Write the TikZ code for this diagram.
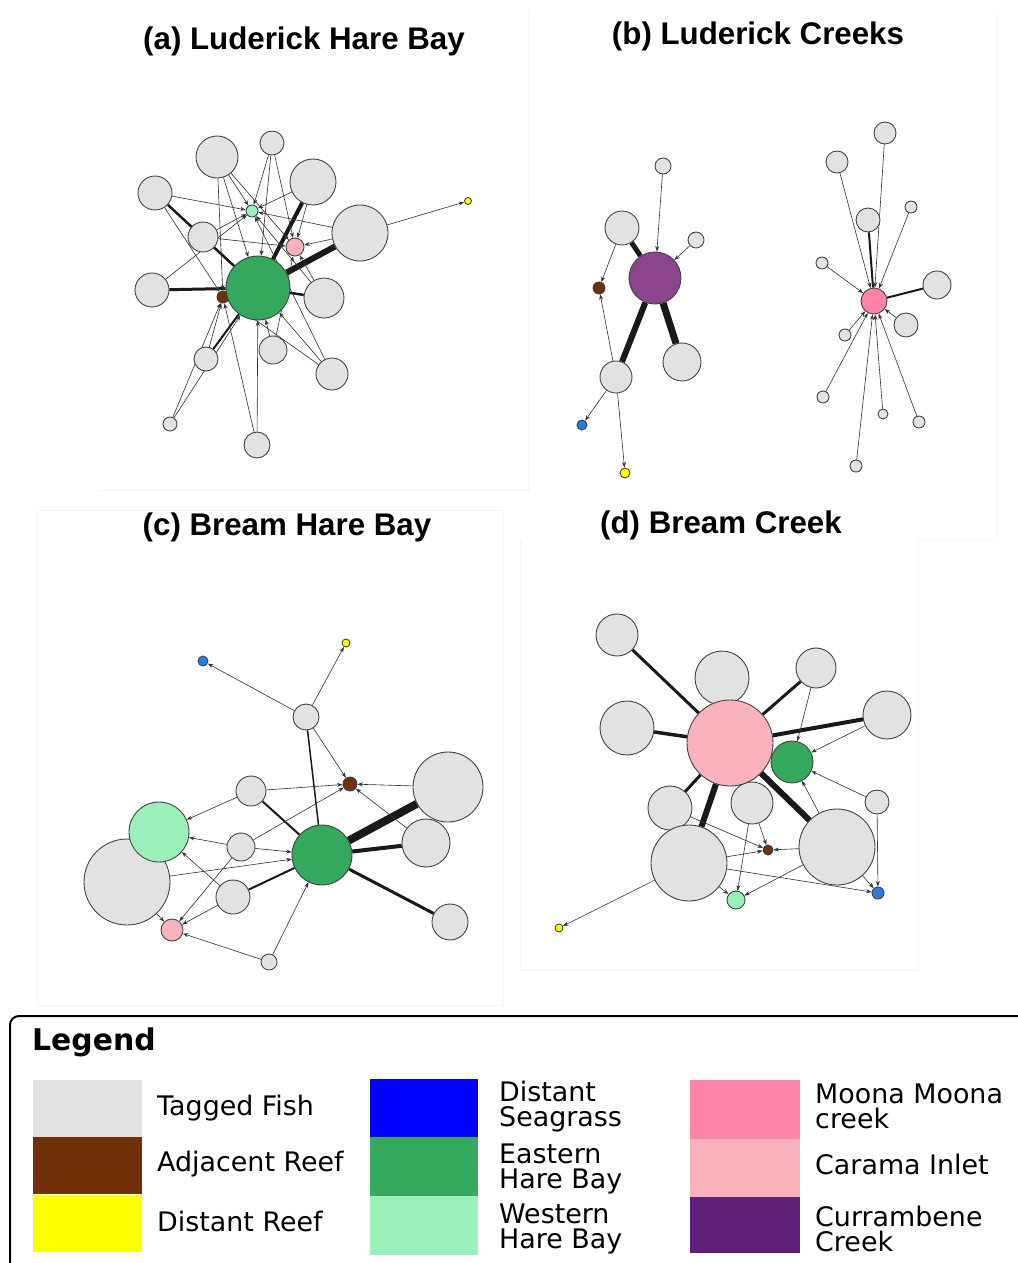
\documentclass[tikz,border=0pt]{standalone}
\usepackage{fontspec}
\setmainfont{Liberation Sans}
\newfontfamily\legfont{DejaVu Sans}
\usetikzlibrary{arrows.meta, backgrounds}
\definecolor{fishgrey}{RGB}{226,226,226}
\definecolor{adjreef}{RGB}{112,48,10}
\definecolor{distreef}{RGB}{255,255,0}
\definecolor{distgrass}{RGB}{0,0,255}
\definecolor{grassnode}{RGB}{40,125,225}
\definecolor{easthare}{RGB}{52,168,92}
\definecolor{westhare}{RGB}{155,240,185}
\definecolor{moona}{RGB}{255,130,168}
\definecolor{carama}{RGB}{250,178,188}
\definecolor{curram}{RGB}{95,30,120}
\definecolor{curramnode}{RGB}{140,68,140}

\begin{document}
\begin{tikzpicture}[x=0.2mm, y=-0.2mm,
  stn/.style={circle, draw=black!75, line width=0.5pt, inner sep=0pt, minimum size=#1*0.4mm},
  fish/.style={stn=#1, fill=fishgrey},
  link/.style={-{Stealth[length=1.1mm, width=0.8mm]}, line width=0.35pt, black!80},
  heavy/.style={line width=#1*0.2mm, black!90},
  title/.style={font=\bfseries\fontsize{17.8}{20}\selectfont, anchor=base},
  legtext/.style={font=\legfont\fontsize{15.3}{14.2}\selectfont, align=left, anchor=west},
  swatch/.style={fill=#1, draw=none}
]
  \useasboundingbox (0,0) rectangle (1017,1263);

  % faint panel frames
  \draw[black!4] (97,490) -- (530,490);
  \draw[black!4] (528,10) -- (528,490) (997,10) -- (997,540) -- (918,540);
  \draw[black!4] (37,510) rectangle (503,1005);
  \draw[black!4] (520,540) -- (520,970) -- (918,970) -- (918,540);

  % titles
  \node[title] (ta) at (304,50) {(a) Luderick Hare Bay};
  \node[title] (tb) at (758,44) {(b) Luderick Creeks};
  \node[title] (tc) at (287,535) {(c) Bream Hare Bay};
  \node[title] (td) at (721,533) {(d) Bream Creek};

  % (a) Luderick Hare Bay
  \node[stn=6, fill=adjreef] (aR) at (223,297) {};
  \node[stn=32, fill=easthare] (aE) at (258,288) {};
  \node[stn=9, fill=carama] (aP) at (295,247) {};
  \node[stn=6, fill=westhare] (aW) at (252,211) {};
  \node[stn=3.5, fill=distreef] (aY) at (468,201) {};
  \foreach \n/\x/\y/\r in {1/217/157/21, 2/272/143/12, 3/313/182/23, 4/155/193/17,
      5/360/233/28, 6/203/237/15, 7/152/290/17, 8/324/298/20, 9/273/350/14,
      10/206/359/12, 11/332/374/16, 12/170/424/7, 13/257/445/13}
    \node[fish=\r] (a\n) at (\x,\y) {};

  \begin{scope}[on background layer]
    \foreach \s/\w in {5/6, 3/4, 7/3, 4/2.5, 8/2.5, 10/2, 6/1.5}
      \draw[heavy=\w] (a\s) -- (aE);
    \foreach \s/\t in {5/Y, 4/W, 4/R, 1/W, 1/R, 1/P, 1/E, 2/W, 2/E, 2/P, 3/W, 3/P,
        5/P, 5/W, 6/W, 6/P, 7/W, 8/P, 8/W, 9/E, 9/P, 10/R, 11/E, 11/R, 11/W,
        12/R, 12/E, 13/E, 13/R}
      \draw[link] (a\s) -- (a\t);
  \end{scope}

  % (b) Luderick Creeks
  \node[stn=26, fill=curramnode] (bC) at (655,278) {};
  \node[stn=6, fill=adjreef] (bR) at (599,288) {};
  \node[stn=5, fill=grassnode] (bS) at (582,425) {};
  \node[stn=5, fill=distreef] (bY) at (625,473) {};
  \foreach \n/\x/\y/\r in {1/663/166/8, 2/622/228/17, 3/696/240/8, 4/616/377/16, 5/682/362/19}
    \node[fish=\r] (b\n) at (\x,\y) {};

  \node[stn=13, fill=moona] (bM) at (874,301) {};
  \foreach \n/\x/\y/\r in {6/885/133/11, 7/837/162/11, 8/868/220/12, 9/911/207/6,
      10/822/263/6, 11/937/285/14, 12/906/325/12, 13/845/335/6, 14/823/397/6,
      15/883/414/5, 16/919/422/6, 17/856/466/6}
    \node[fish=\r] (b\n) at (\x,\y) {};

  \begin{scope}[on background layer]
    \foreach \s/\w in {2/5, 4/6, 5/7}
      \draw[heavy=\w] (b\s) -- (bC);
    \draw[heavy=2] (b8) -- (bM);
    \draw[heavy=2] (b11) -- (bM);
    \foreach \s/\t in {1/C, 3/C, 2/R, 4/R, 4/S, 4/Y}
      \draw[link] (b\s) -- (b\t);
    \foreach \s in {6,7,9,10,12,13,14,15,16,17}
      \draw[link] (b\s) -- (bM);
  \end{scope}

  % (c) Bream Hare Bay
  \node[stn=30, fill=easthare] (cE) at (322,855) {};
  \node[fish=43] (c6) at (127,882) {};
  \node[stn=30, fill=westhare] (cW) at (159,832) {};
  \node[stn=7, fill=adjreef] (cR) at (350,784) {};
  \node[stn=11, fill=carama] (cP) at (172,930) {};
  \node[stn=5, fill=grassnode] (cS) at (203,661) {};
  \node[stn=4, fill=distreef] (cY) at (346,643) {};
  \foreach \n/\x/\y/\r in {1/306/717/13, 2/251/791/15, 3/448/787/35, 4/426/843/24,
      5/241/847/14, 7/233/897/17, 8/450/922/18, 9/269/962/8}
    \node[fish=\r] (c\n) at (\x,\y) {};

  \begin{scope}[on background layer]
    \foreach \s/\w in {3/8, 4/4, 8/3, 1/1.5, 2/2, 7/2}
      \draw[heavy=\w] (c\s) -- (cE);
    \foreach \s/\t in {1/S, 1/Y, 1/R, 3/R, 4/R, 2/W, 2/R, 5/W, 5/E, 5/R, 5/P,
        6/E, 6/P, 7/P, 7/W, 9/E, 9/P}
      \draw[link] (c\s) -- (c\t);
  \end{scope}

  % (d) Bream Creek
  \foreach \n/\x/\y/\r in {1/617/635/21, 2/722/678/27, 3/816/668/20, 4/627/728/27,
      5/887/715/24, 6/670/808/22, 7/752/803/21, 8/877/802/12, 9/689/863/38, 10/837/847/38}
    \node[fish=\r] (d\n) at (\x,\y) {};
  \node[stn=43, fill=carama] (dC) at (730,743) {};
  \node[stn=21, fill=easthare] (dE) at (792,762) {};
  \node[stn=5, fill=adjreef] (dR) at (768,850) {};
  \node[stn=9, fill=westhare] (dW) at (736,900) {};
  \node[stn=6, fill=grassnode] (dS) at (878,893) {};
  \node[stn=4, fill=distreef] (dY) at (559,928) {};

  \begin{scope}[on background layer]
    \foreach \s/\w in {1/3, 4/3.5, 2/2.5, 3/3, 5/4, 6/3, 9/6, 10/6}
      \draw[heavy=\w] (d\s) -- (dC);
    \foreach \s/\t in {5/E, 3/E, 8/E, 10/E, 8/S, 10/S, 9/S, 7/R, 7/W, 9/R, 10/R,
        10/W, 9/W, 6/R, 9/Y}
      \draw[link] (d\s) -- (d\t);
  \end{scope}

  % legend
  \draw[line width=0.4mm, rounded corners=1.8mm] (10,1290) -- (10,1016) -- (1040,1016);
  \node[font=\legfont\bfseries\fontsize{17}{20}\selectfont, anchor=west] (leg) at (26,1042) {Legend};

  \foreach \c/\y in {fishgrey/1080, adjreef/1137, distreef/1195}
    \fill[swatch=\c] (33,\y) rectangle ++(109,57);
  \fill[swatch=distgrass] (370,1079) rectangle (478,1137);
  \fill[swatch=easthare] (370,1137) rectangle (478,1196);
  \fill[swatch=westhare] (370,1196) rectangle (478,1255);
  \fill[swatch=moona] (690,1080) rectangle (800,1139);
  \fill[swatch=carama] (690,1139) rectangle (800,1197);
  \fill[swatch=curram] (690,1197) rectangle (800,1253);

  \node[legtext] (l1) at (151,1108) {Tagged Fish};
  \node[legtext] (l2) at (151,1164) {Adjacent Reef};
  \node[legtext] (l3) at (151,1221) {Distant Reef};
  \node[legtext] (l4) at (493,1107) {Distant\\Seagrass};
  \node[legtext] (l5) at (493,1169) {Eastern\\Hare Bay};
  \node[legtext] (l6) at (493,1229) {Western\\Hare Bay};
  \node[legtext] (l7) at (809,1106) {Moona Moona\\creek};
  \node[legtext] (l8) at (809,1164) {Carama Inlet};
  \node[legtext] (l9) at (809,1229) {Currambene\\Creek};
\end{tikzpicture}
\end{document}
